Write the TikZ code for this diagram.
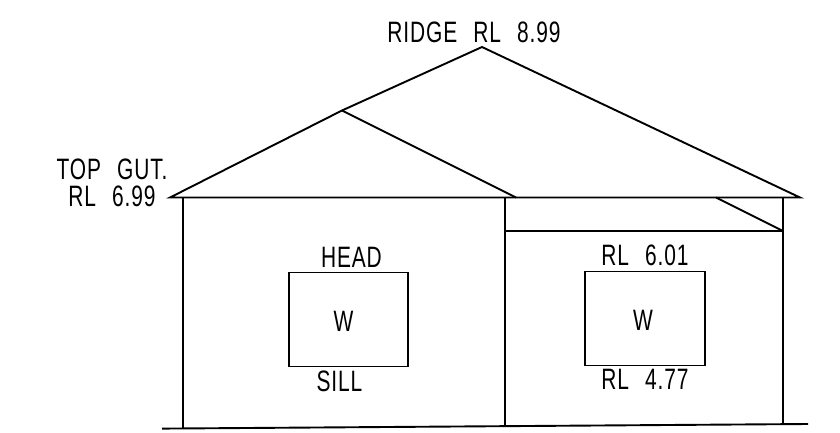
\documentclass[tikz,border=0pt]{standalone}
\usepackage{fontspec}
\setmainfont[FakeStretch=0.71,WordSpace=2.4,LetterSpace=3]{Liberation Sans}
\usetikzlibrary{positioning}
\tikzstyle{wall} = [line width=1.9pt, black]
\tikzstyle{window} = [draw, rectangle, line width=1.9pt, inner sep=0, anchor=north west]
\tikzstyle{lbl} = [inner sep=0, font=\fontsize{29.5}{27}\selectfont]
\begin{document}
\begin{tikzpicture}[x=1pt,y=-1pt,node distance=1.5cm]
		\useasboundingbox (0,0) rectangle (840,433);
		\coordinate (ridge) at (482,47);						% First
		\coordinate (eave-l) at (170,197.5);
		\coordinate (eave-r) at (800,197.5);
		\coordinate (hip) at (342,110.5);
		\coordinate (valley) at (516,197.5);
		\coordinate (wall-l-t) at (183,197.5);
		\coordinate (wall-l-b) at (183,428.4);
		\coordinate (wall-m-t) at (505,197.5);
		\coordinate (wall-m-b) at (505,426.5);
		\coordinate (wall-r-t) at (783,197.5);
		\coordinate (wall-r-b) at (783,424.5);
		\coordinate (beam-l) at (505,231);
		\coordinate (beam-r) at (783,231);
		\coordinate (brace) at (716,197.5);
		\coordinate (ground-l) at (162,428.6);
		\coordinate (ground-r) at (808,424);
		
		\node[window,minimum width=119pt,minimum height=94pt] (win-l) at (288,271.5) {};	% left window
		\node[window,minimum width=120pt,minimum height=94pt] (win-r) at (584,270.5) {};	% right window
		\node[lbl,xshift=-5pt,yshift=-2pt] (w-l) at (win-l.center) {W};
		\node[lbl,xshift=-2pt,yshift=-2pt] (w-r) at (win-r.center) {W};
		\node[lbl,above=4pt of win-l,xshift=3pt] (head) {HEAD};
		\node[lbl,below=3pt of win-l,xshift=-9pt] (sill) {SILL};
		\node[lbl,above=5pt of win-r] (rl-top) {RL 6.01};
		\node[lbl,below=3pt of win-r] (rl-bot) {RL 4.77};
		\node[lbl,above=4pt of ridge,xshift=-8pt] (ridge-txt) {RIDGE RL 8.99};
		\node[lbl,align=center] (gut-txt) at (112,183) {TOP GUT.\\RL 6.99};
		
		% roof
		\draw[wall] (eave-l) -- (hip) -- (ridge) -- (eave-r) -- cycle;
		\draw[wall] (hip) -- (valley);
		\draw[wall] (brace) -- (beam-r);
		% walls
		\draw[wall] (wall-l-t) -- (wall-l-b);
		\draw[wall] (wall-m-t) -- (wall-m-b);
		\draw[wall] (wall-r-t) -- (wall-r-b);
		\draw[wall] (beam-l) -- (beam-r);
		\draw[wall] (ground-l) -- (ground-r);
\end{tikzpicture}
\end{document}
